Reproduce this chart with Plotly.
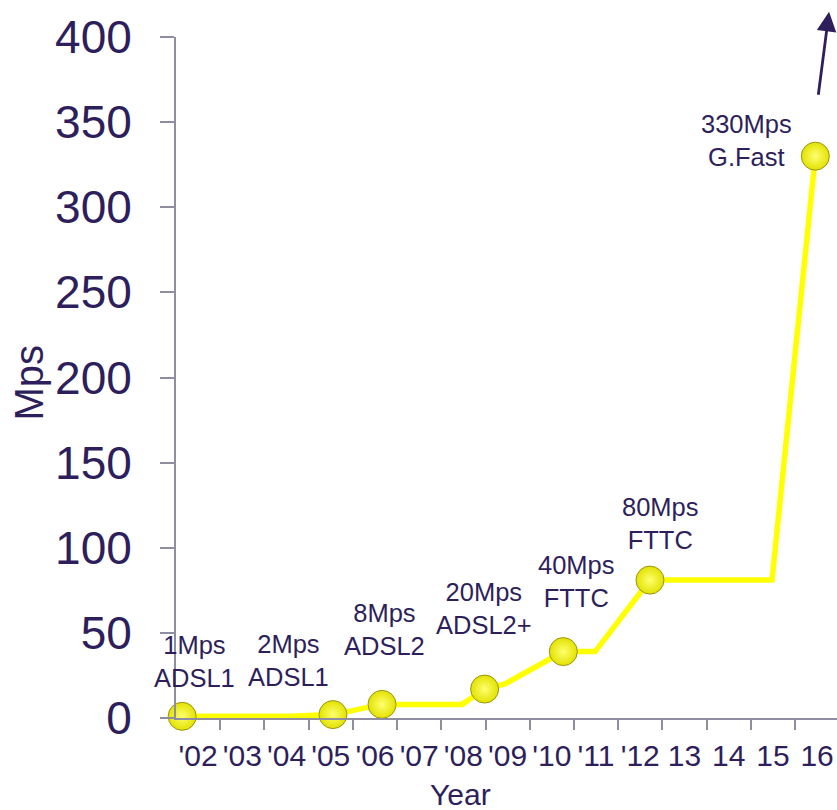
import plotly.graph_objects as go

# ---- data ----
years = list(range(2002, 2017))
year_labels = ["'02", "'03", "'04", "'05", "'06", "'07", "'08", "'09", "'10", "'11", "'12", "13", "14", "15", "16"]

line_x = [2001.64, 2004.08, 2005.05, 2006.16, 2007.97, 2008.48, 2008.94, 2010.26, 2010.98, 2012.22, 2014.98, 2015.96]
line_y = [1, 1, 2, 8, 8, 17, 20, 39, 39, 81, 81, 330]

marker_x = [2001.64, 2005.05, 2006.16, 2008.48, 2010.26, 2012.22, 2015.96]
marker_y = [1, 2, 8, 17, 39, 81, 330]
marker_labels = ["1Mps<br>ADSL1", "2Mps<br>ADSL1", "8Mps<br>ADSL2", "20Mps<br>ADSL2+",
                 "40Mps<br>FTTC", "80Mps<br>FTTC", "330Mps<br>G.Fast"]

y_ticks = [0, 50, 100, 150, 200, 250, 300, 350, 400]

# ---- styles ----
label_shift_x = [12, -44, 2, -1, 13, 11, -69]
label_shift_y = [55, 54, 75, 81, 70, 57, 16]

PURPLE = "#2e1f5c"
GRAY = "#8e8ea0"
FONT = "Liberation Sans, Arial, sans-serif"

fig = go.Figure()
fig.add_trace(go.Scatter(
    x=line_x, y=line_y, mode="lines",
    line=dict(color="#ffff00", width=5.5),
    hoverinfo="skip", showlegend=False, cliponaxis=False,
))
fig.add_trace(go.Scatter(
    x=marker_x, y=marker_y, mode="markers",
    marker=dict(size=28, color="#e2e200",
                gradient=dict(type="radial", color="#ffff70"),
                line=dict(color="#9a9410", width=1)),
    showlegend=False, cliponaxis=False,
))

annotations = []
for x, y, t, dx, dy in zip(marker_x, marker_y, marker_labels, label_shift_x, label_shift_y):
    annotations.append(dict(
        x=x, y=y, xref="x", yref="y", text=t, showarrow=False,
        xshift=dx, yshift=dy, xanchor="center", yanchor="middle",
        font=dict(family=FONT, size=25.5, color=PURPLE), align="center",
    ))

# arrow (paper refs so it is not hidden above the axis range)
annotations.append(dict(
    x=0.988, y=1.037, xref="paper", yref="paper", text=" ", showarrow=True,
    ax=-11, ay=85, axref="pixel", ayref="pixel",
    arrowhead=2, arrowsize=1.4, arrowwidth=2.8, arrowcolor=PURPLE,
    font=dict(size=1), standoff=0, startstandoff=0,
))

# axis titles
annotations.append(dict(
    x=-0.222, y=0.493, xref="paper", yref="paper", text="Mps", showarrow=False,
    textangle=-90, xanchor="center", yanchor="middle",
    font=dict(family=FONT, size=40, color=PURPLE),
))
annotations.append(dict(
    x=0.43, y=-0.112, xref="paper", yref="paper", text="Year", showarrow=False,
    xanchor="center", yanchor="middle",
    font=dict(family=FONT, size=30, color=PURPLE),
))

fig.update_layout(
    width=837, height=810,
    margin=dict(l=176, r=0, t=37, b=92),
    paper_bgcolor="white", plot_bgcolor="white",
    annotations=annotations,
    xaxis=dict(
        range=[2001.5, 2016.45], tickmode="array", tickvals=years, ticktext=year_labels,
        ticks="", showgrid=False, zeroline=False,
        showline=True, linecolor=GRAY, linewidth=2,
        tickfont=dict(family=FONT, size=30, color=PURPLE),
        ticklabelstandoff=10,
        minor=dict(tickmode="array", tickvals=[y + 0.5 for y in years[:-1]],
                   ticks="outside", ticklen=10, tickwidth=2, tickcolor=GRAY, showgrid=False),
    ),
    yaxis=dict(
        range=[0, 400], tickmode="array", tickvals=y_ticks,
        ticks="outside", ticklen=14, tickwidth=2, tickcolor=GRAY,
        showgrid=False, zeroline=False,
        showline=True, linecolor=GRAY, linewidth=2,
        tickfont=dict(family=FONT, size=46, color=PURPLE),
        ticklabelstandoff=19,
    ),
)

fig.write_html("out.html")
